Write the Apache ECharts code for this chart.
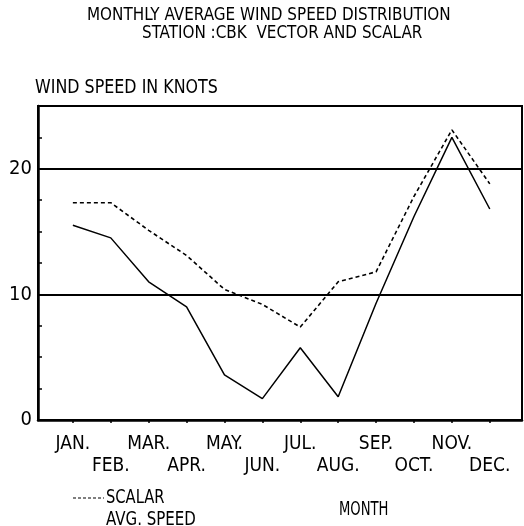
<!DOCTYPE html>
<html>
<head>
<meta charset="utf-8">
<script src="https://cdn.jsdelivr.net/npm/echarts@6/dist/echarts.min.js"></script>
<style>
html,body{margin:0;padding:0;background:#fff;}
#c{width:524px;height:526px;}
</style>
</head>
<body>
<div id="c"></div>
<script>
var MONTHS = ['JAN.','FEB.','MAR.','APR.','MAY.','JUN.','JUL.','AUG.','SEP.','OCT.','NOV.','DEC.'];
var MONTH_POS = [1,2,3,4,5,6,7,8,9,10,11,12];
var ODD_POS = [1,3,5,7,9,11];
var EVEN_POS = [2,4,6,8,10,12];
var VECTOR = [15.5, 14.5, 11.0, 9.0, 3.6, 1.7, 5.75, 1.85, 9.3, 16.2, 22.5, 16.8];
var SCALAR = [17.3, 17.3, 15.1, 13.1, 10.4, 9.2, 7.4, 11.0, 11.8, 17.8, 23.1, 18.8];
var Y_LABELS = [0, 10, 20];

var FONT = "'DejaVu Sans Condensed', 'Liberation Sans Narrow', sans-serif";

function pairs(vals){ return MONTH_POS.map(function(m,i){ return [m, vals[i]]; }); }
function txt(s, x, y, size, sx){
  return {type:'text', x:x, y:y, scaleX:sx, scaleY:1, z:100,
    style:{text:s, font:size+'px '+FONT, fill:'#000', textVerticalAlign:'top', textAlign:'left'}};
}
function monthName(v){ return MONTHS[Math.round(v)-1]; }

var chart = echarts.init(document.getElementById('c'), null, {renderer:'canvas'});
chart.setOption({
  backgroundColor:'#fff',
  animation:false,
  grid:{left:38, right:2, top:106, bottom:106, show:true, borderColor:'#000', borderWidth:2, backgroundColor:'#fff'},
  xAxis:[{
    type:'value', min:0.08, max:12.85, position:'bottom', offset:0,
    axisLine:{show:true, onZero:false, lineStyle:{color:'#000', width:2.5}},
    axisTick:{show:true, customValues:MONTH_POS, length:3, inside:false, lineStyle:{color:'#000', width:1.5}},
    axisLabel:{show:true, customValues:ODD_POS, margin:15, hideOverlap:false,
      fontFamily:FONT, fontSize:19, color:'#000', formatter:monthName},
    splitLine:{show:false}
  },{
    type:'value', min:0.08, max:12.85, position:'bottom', offset:0,
    axisLine:{show:false}, axisTick:{show:false},
    axisLabel:{show:true, customValues:EVEN_POS, margin:37, hideOverlap:false,
      fontFamily:FONT, fontSize:19, color:'#000', formatter:monthName},
    splitLine:{show:false}
  }],
  yAxis:{
    type:'value', min:0, max:25, interval:2.5,
    axisLine:{show:true, lineStyle:{color:'#000', width:2.5}},
    axisTick:{show:true, inside:true, length:4, lineStyle:{color:'#000', width:1.5}},
    axisLabel:{margin:6, fontFamily:FONT, fontSize:20, color:'#000',
      formatter:function(v){ return Y_LABELS.indexOf(v) >= 0 ? String(v) : ''; }},
    splitLine:{show:true, lineStyle:{color:['#000','rgba(0,0,0,0)','rgba(0,0,0,0)','rgba(0,0,0,0)'], width:1.8}}
  },
  series:[
    {name:'VECTOR', type:'line', xAxisIndex:0, data:pairs(VECTOR), symbol:'none',
     lineStyle:{color:'#000', width:1.5}},
    {name:'SCALAR', type:'line', xAxisIndex:0, data:pairs(SCALAR), symbol:'none',
     lineStyle:{color:'#000', width:1.6, type:[4,3]}}
  ],
  graphic:[
    txt('MONTHLY AVERAGE WIND SPEED DISTRIBUTION', 87, 6.5, 17.8, 0.95),
    txt('STATION :CBK  VECTOR AND SCALAR', 142, 24.5, 17.8, 0.95),
    txt('WIND SPEED IN KNOTS', 35, 79, 19, 0.93),
    txt('MONTH', 339, 501, 19, 0.77),
    txt('SCALAR', 106, 489, 19, 0.86),
    txt('AVG. SPEED', 106, 511, 19, 0.88),
    {type:'line', shape:{x1:73, y1:498, x2:104, y2:498}, style:{stroke:'#000', lineWidth:1.2, lineDash:[3,2]}}
  ]
});
</script>
</body>
</html>
